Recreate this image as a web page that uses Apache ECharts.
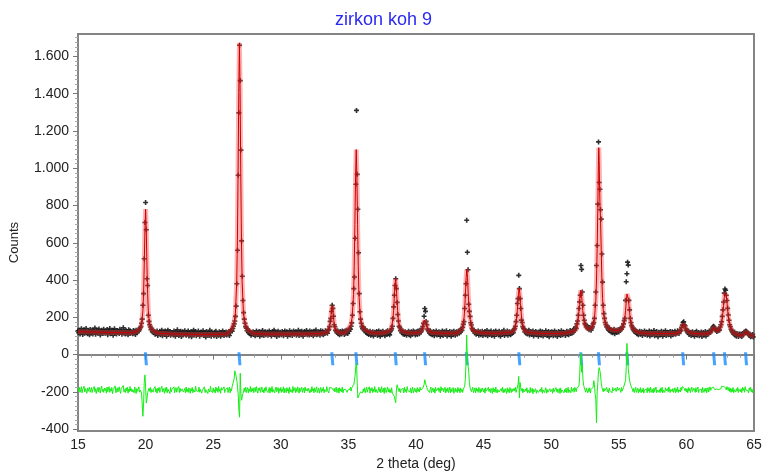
<!DOCTYPE html>
<html>
<head>
<meta charset="utf-8">
<title>zirkon koh 9</title>
<script src="https://cdn.jsdelivr.net/npm/echarts@6/dist/echarts.min.js"></script>
<style>
  html, body { margin: 0; padding: 0; background: #fff; }
  #chart { width: 767px; height: 476px; }
</style>
</head>
<body>
<div id="chart"></div>
<script>
// measurement grid (2 theta, deg)
const thetaStart = 15;
const thetaStep = 0.05;

// observed counts, one array per 5 deg (20 points per degree)
const obs15 = [
  128,117,131,110,125,139,121,108,126,133,115,122,140,119,112,129,124,106,135,120,
  118,132,111,127,123,142,109,121,130,114,126,137,118,105,124,131,120,113,136,122,
  115,128,121,134,107,119,126,140,112,123,117,131,104,125,138,116,122,110,129,119,
  124,113,136,118,127,109,121,144,115,126,111,130,119,123,106,133,117,128,114,121,
  120,112,129,116,125,108,131,118,122,130,127,135,144,150,168,190,265,327,514,709
];
const obs20 = [
  816,670,407,371,211,178,160,148,134,141,122,128,117,124,109,121,115,127,103,118,
  112,125,106,118,130,101,116,122,109,127,113,98,120,131,108,115,124,104,119,111,
  117,105,126,112,99,121,108,133,114,102,119,110,125,97,116,123,106,113,128,109,
  104,120,113,127,100,115,109,122,96,118,111,131,105,117,124,101,112,108,126,114,
  99,116,121,107,113,128,102,110,119,95,124,111,106,117,103,130,112,98,121,109
];
const obs25 = [
  113,101,120,108,125,97,115,110,104,122,111,99,118,106,127,112,103,116,109,121,
  105,117,111,124,102,119,128,133,126,140,152,165,180,205,260,380,560,962,1297,1660,
  1470,1097,610,420,290,225,190,168,150,142,128,137,119,126,112,121,104,117,110,123,
  108,119,101,114,126,106,117,111,124,98,113,120,105,129,110,102,116,122,107,115,
  121,104,112,127,109,118,100,115,123,108,131,106,113,119,97,117,125,111,104,120
];
const obs30 = [
  112,106,124,115,101,119,127,108,113,122,99,116,110,128,105,118,121,103,114,126,
  109,117,123,104,119,111,130,102,115,121,107,125,113,98,118,124,110,116,129,106,
  120,112,105,127,114,108,122,117,101,125,111,119,132,106,115,109,123,113,104,128,
  116,110,125,107,119,113,128,118,124,115,131,134,150,178,194,231,265,248,206,160,
  149,131,125,118,128,112,121,106,124,115,110,127,118,122,108,126,115,130,121,113
];
const obs35 = [
  132,125,141,136,152,170,211,274,354,416,624,914,1310,967,780,546,327,230,190,168,
  150,139,148,133,128,137,119,126,113,122,108,119,125,104,117,111,123,100,115,120,
  109,118,124,103,114,127,110,99,121,116,106,125,112,119,101,117,123,108,128,113,
  118,106,124,131,139,152,194,256,318,371,407,354,280,215,180,152,146,128,135,117,
  126,111,120,108,123,115,104,119,112,125,107,118,101,122,114,109,127,116,121,105
];
const obs40 = [
  113,122,108,126,117,112,131,120,127,138,150,168,206,247,232,178,160,137,129,124,
  115,128,110,121,106,118,124,101,116,112,127,105,119,108,123,114,99,120,111,126,
  103,117,122,109,115,128,100,113,119,106,124,111,98,121,116,107,125,112,104,118,
  122,109,117,126,114,131,123,137,129,146,162,177,247,318,380,721,549,455,270,232,
  205,171,159,140,133,126,130,116,124,109,120,113,127,104,118,122,107,115,125,102
];
const obs45 = [
  119,110,124,106,116,129,101,113,121,108,118,126,103,115,111,123,98,117,127,109,
  114,120,105,125,112,99,118,123,108,116,130,102,113,119,110,126,104,117,122,111,
  107,121,115,128,118,134,140,152,177,211,274,300,425,354,300,247,185,172,150,141,
  136,122,129,114,125,110,119,131,105,117,123,108,115,127,100,118,112,124,106,120,
  113,98,121,109,126,104,116,122,100,114,119,107,128,111,103,117,124,96,115,120
];
const obs50 = [
  108,123,112,101,118,126,105,115,120,97,113,124,109,117,102,128,111,106,121,114,
  119,103,116,125,110,121,107,118,129,113,124,116,131,120,138,129,146,140,165,180,
  211,247,283,318,478,457,336,265,211,184,166,160,148,152,140,146,133,145,138,131,
  142,150,165,172,194,265,336,478,585,807,1141,923,887,777,727,540,389,265,220,194,
  172,160,148,153,139,131,142,126,135,120,131,117,128,136,112,125,130,118,127,133
];
const obs55 = [
  121,134,129,140,136,150,148,165,182,194,291,391,434,496,480,291,240,194,172,156,
  148,138,131,124,133,118,127,112,121,106,118,125,109,116,122,103,119,113,127,108,
  115,121,104,118,110,126,100,114,123,107,117,112,129,101,119,108,124,113,96,120,
  111,117,106,125,113,99,121,109,116,128,103,114,120,107,118,111,124,100,115,122,
  106,119,112,125,109,117,114,128,120,113,126,132,128,147,158,172,176,160,155,140
];
const obs60 = [
  131,124,118,127,108,120,113,102,117,123,106,114,99,119,110,125,104,112,118,101,
  115,108,121,97,113,119,104,111,124,100,116,109,120,112,126,118,123,131,137,146,
  152,148,141,133,129,124,133,128,137,131,148,160,176,205,240,282,330,352,345,318,
  290,248,212,184,160,149,136,128,122,117,110,121,104,114,99,108,112,97,106,110,
  101,109,97,112,105,116,122,119,127,124,118,113,108,102,111,96,104,99,108,94
];

// difference curve (obs - calc, drawn with offset), same grid
const diff15 = [
  -181,-199,-176,-203,-188,-172,-205,-186,-196,-170,-201,-183,-193,-208,-179,-197,-185,-174,-202,-190,
  -177,-204,-187,-195,-171,-199,-183,-209,-190,-178,-200,-175,-192,-206,-181,-169,-198,-186,-203,-180,
  -193,-182,-207,-174,-199,-186,-172,-203,-184,-196,-176,-210,-189,-180,-198,-168,-205,-191,-178,-201,
  -186,-173,-197,-208,-182,-192,-176,-166,-200,-188,-204,-179,-194,-175,-207,-185,-199,-171,-195,-183,
  -201,-188,-178,-205,-174,-193,-209,-182,-197,-186,-173,-202,-190,-180,-206,-215,-331,-265,-150,-109
];
const diff20 = [
  -175,-260,-240,-205,-199,-181,-197,-176,-204,-187,-178,-202,-185,-195,-172,-200,-184,-207,-180,-193,
  -176,-203,-188,-196,-170,-201,-182,-192,-208,-178,-198,-174,-205,-186,-194,-179,-209,-176,-200,-188,
  -181,-196,-173,-205,-189,-177,-202,-185,-194,-171,-204,-180,-198,-207,-184,-175,-201,-191,-182,-206,
  -174,-199,-186,-203,-178,-192,-208,-182,-196,-176,-205,-188,-179,-201,-170,-194,-204,-184,-198,-175,
  -202,-186,-177,-207,-191,-181,-199,-173,-204,-188,-179,-196,-209,-184,-176,-201,-169,-193,-186,-205
];
const diff25 = [
  -179,-199,-188,-206,-174,-194,-181,-203,-171,-197,-186,-208,-177,-191,-201,-184,-173,-204,-189,-180,
  -199,-178,-204,-186,-174,-205,-183,-194,-172,-181,-165,-130,-87,-100,-105,-140,-175,-215,-300,-336,
  -100,-210,-245,-225,-209,-203,-180,-199,-175,-204,-188,-177,-206,-185,-197,-171,-202,-183,-195,-178,
  -205,-188,-176,-199,-172,-194,-207,-181,-192,-177,-203,-186,-174,-201,-189,-206,-179,-197,-173,-191,
  -182,-204,-195,-176,-207,-181,-198,-171,-202,-188,-178,-205,-185,-174,-199,-192,-177,-208,-183,-196
];
const diff30 = [
  -176,-203,-186,-198,-173,-206,-181,-193,-204,-177,-196,-183,-209,-174,-200,-188,-179,-205,-171,-197,
  -188,-177,-205,-183,-199,-173,-192,-207,-179,-198,-186,-175,-203,-191,-180,-206,-174,-195,-201,-183,
  -197,-181,-175,-206,-188,-201,-172,-194,-183,-205,-178,-199,-187,-173,-204,-191,-179,-207,-188,-176,
  -203,-184,-196,-175,-205,-188,-178,-199,-172,-192,-182,-206,-177,-179,-176,-178,-170,-182,-193,-181,
  -201,-186,-175,-204,-192,-180,-207,-178,-196,-184,-200,-174,-205,-188,-179,-198,-186,-176,-203,-191
];
const diff35 = [
  -181,-199,-187,-175,-196,-178,-178,-172,-160,-140,-110,-60,-46,-150,-233,-225,-215,-208,-200,-196,
  -191,-206,-184,-200,-178,-205,-188,-175,-202,-186,-195,-173,-207,-182,-193,-177,-204,-186,-198,-172,
  -202,-187,-179,-206,-192,-175,-199,-184,-205,-172,-189,-201,-181,-209,-177,-193,-204,-186,-174,-200,
  -183,-203,-189,-205,-178,-207,-205,-212,-225,-243,-258,-190,-162,-175,-183,-199,-181,-204,-188,-178,
  -196,-181,-206,-175,-199,-186,-204,-172,-193,-202,-183,-200,-179,-207,-188,-174,-205,-191,-180,-200
];
const diff40 = [
  -186,-204,-177,-197,-184,-201,-175,-190,-180,-180,-182,-172,-160,-135,-145,-165,-176,-189,-197,-181,
  -203,-186,-174,-205,-191,-179,-201,-184,-207,-176,-196,-188,-204,-178,-198,-182,-206,-172,-193,-202,
  -180,-200,-188,-175,-206,-185,-198,-178,-204,-191,-174,-205,-183,-200,-188,-177,-208,-194,-181,-199,
  -188,-204,-176,-196,-183,-205,-179,-198,-186,-203,-186,-185,-170,-130,-40,105,-30,-60,-95,-150,
  -178,-186,-199,-186,-175,-204,-191,-180,-206,-178,-196,-185,-203,-176,-192,-205,-183,-198,-179,-190
];
const diff45 = [
  -201,-183,-207,-178,-196,-188,-205,-176,-198,-185,-204,-181,-192,-209,-177,-200,-186,-203,-174,-195,
  -206,-188,-179,-201,-191,-208,-182,-198,-175,-205,-187,-202,-183,-195,-209,-178,-200,-186,-205,-177,
  -191,-204,-183,-198,-207,-181,-195,-176,-203,-188,-180,-160,-117,-233,-150,-178,-196,-181,-205,-186,
  -200,-209,-184,-197,-178,-205,-190,-185,-206,-177,-203,-192,-181,-210,-187,-200,-204,-183,-208,-191,
  -181,-203,-193,-206,-185,-200,-176,-208,-190,-182,-204,-195,-178,-207,-187,-202,-192,-205,-183,-199
];
const diff50 = [
  -204,-187,-208,-180,-200,-191,-206,-177,-198,-185,-205,-193,-182,-209,-179,-203,-190,-200,-184,-205,
  -187,-200,-180,-206,-193,-176,-204,-190,-184,-205,-175,-198,-188,-181,-202,-176,-186,-199,-179,-185,
  -182,-170,-125,-30,7,-95,-55,-135,-165,-178,-191,-202,-179,-194,-205,-183,-199,-178,-206,-187,
  -197,-180,-175,-140,-160,-210,-240,-366,-200,-150,-90,-70,-85,-110,-150,-175,-185,-200,-181,-196,
  -186,-204,-176,-199,-188,-206,-179,-193,-203,-183,-205,-176,-195,-185,-204,-180,-198,-188,-174,-192
];
const diff55 = [
  -200,-180,-192,-203,-177,-196,-186,-176,-180,-172,-140,-70,60,-10,-75,-110,-140,-155,-168,-178,
  -185,-199,-182,-204,-189,-176,-203,-191,-180,-206,-186,-199,-177,-205,-188,-200,-179,-207,-190,-181,
  -200,-184,-205,-177,-196,-182,-204,-175,-191,-203,-187,-206,-179,-199,-185,-174,-205,-190,-181,-202,
  -188,-204,-180,-198,-175,-206,-191,-185,-203,-178,-195,-205,-182,-200,-173,-190,-204,-186,-177,-198,
  -182,-203,-191,-178,-205,-185,-199,-174,-204,-188,-179,-201,-176,-192,-172,-180,-172,-182,-195,-181
];
const diff60 = [
  -200,-184,-205,-177,-196,-182,-204,-189,-175,-198,-206,-180,-191,-203,-178,-200,-186,-174,-204,-190,
  -180,-199,-185,-205,-176,-192,-203,-183,-197,-179,-206,-188,-177,-201,-185,-173,-192,-180,-179,-184,
  -175,-182,-188,-180,-192,-185,-190,-183,-187,-180,-178,-184,-170,-165,-180,-172,-168,-162,-178,-190,
  -172,-180,-193,-176,-198,-181,-203,-184,-199,-177,-205,-188,-179,-201,-183,-196,-176,-204,-187,-180,
  -199,-183,-204,-175,-193,-181,-202,-172,-190,-200,-180,-194,-206,-178,-192,-176,-201,-185,-204,-190
];

// calculated profile [2theta, counts]
const calcCurve = [
  [15,123],[16,121],[17,119],[18,118],[19,117],[19.4,126],[19.6,143],[19.7,162],[19.8,236],[19.85,328],
  [19.9,481],[19.95,667],[20.0,780],[20.05,665],[20.1,479],[20.15,326],[20.2,234],[20.3,160],[20.4,141],[20.6,124],
  [21,114],[22,111],[23,109],[24,108],[25,108],[26,110],[26.34,133],[26.54,172],[26.64,219],[26.74,391],
  [26.79,610],[26.84,969],[26.89,1406],[26.94,1672],[26.99,1406],[27.04,969],[27.09,610],[27.14,391],[27.24,219],[27.34,172],
  [27.54,133],[28,113],[29,110],[30,110],[31,110],[32,111],[33,113],[33.2,116],[33.4,121],[33.5,126],
  [33.6,144],[33.65,165],[33.7,199],[33.75,240],[33.8,262],[33.85,240],[33.9,199],[33.95,165],[34.0,144],[34.1,126],
  [34.2,120],[34.4,116],[34.7,116],[34.98,135],[35.18,161],[35.28,201],[35.38,323],[35.43,471],[35.48,697],[35.53,953],
  [35.58,1100],[35.63,953],[35.68,697],[35.73,471],[35.78,323],[35.88,201],[35.98,161],[36.18,135],[36.6,118],[37,115],
  [37.5,116],[37.89,122],[38.09,131],[38.19,145],[38.29,189],[38.34,235],[38.39,299],[38.44,369],[38.49,407],[38.54,369],
  [38.59,299],[38.64,235],[38.69,189],[38.79,145],[38.89,131],[39.09,122],[39.5,116],[40.07,117],[40.27,119],[40.37,123],
  [40.47,135],[40.52,148],[40.57,165],[40.62,185],[40.67,195],[40.72,185],[40.77,165],[40.82,148],[40.87,135],[40.97,123],
  [41.07,119],[41.27,117],[42,114],[43,115],[43.16,123],[43.36,133],[43.46,150],[43.56,201],[43.61,256],[43.66,331],
  [43.71,413],[43.76,457],[43.81,413],[43.86,331],[43.91,270],[43.96,215],[44.06,158],[44.16,135],[44.36,123],[45,116],
  [46,114],[47.03,120],[47.23,129],[47.33,144],[47.43,185],[47.48,223],[47.53,273],[47.58,326],[47.63,355],[47.68,326],
  [47.73,273],[47.78,223],[47.83,185],[47.93,144],[48.03,129],[48.23,120],[49,114],[50,113],[51,115],[51.59,123],
  [51.79,132],[51.89,145],[51.99,184],[52.04,220],[52.09,268],[52.14,318],[52.19,345],[52.24,318],[52.29,280],[52.34,235],
  [52.39,195],[52.49,160],[52.59,145],[52.79,135],[52.9,138],[53.0,145],[53.1,160],[53.2,195],[53.3,290],[53.35,400],
  [53.4,570],[53.45,800],[53.5,1060],[53.52,1110],[53.55,1040],[53.6,820],[53.65,720],[53.7,560],[53.75,400],[53.8,300],
  [53.85,240],[53.9,205],[54.0,170],[54.1,152],[54.3,138],[54.6,130],[55.0,130],[55.2,138],[55.3,150],[55.4,175],
  [55.45,200],[55.5,235],[55.55,280],[55.6,325],[55.64,335],[55.7,300],[55.75,265],[55.8,225],[55.85,190],[55.9,165],
  [56.0,143],[56.2,128],[56.5,118],[57,114],[58,113],[59,113],[59.3,115],[59.5,121],[59.6,130],[59.65,140],
  [59.7,152],[59.75,163],[59.8,168],[59.85,162],[59.9,152],[60.0,132],[60.1,122],[60.3,116],[61,111],[61.6,113],
  [61.8,120],[61.9,130],[61.95,140],[62.0,148],[62.03,150],[62.1,143],[62.15,135],[62.25,127],[62.4,130],[62.5,140],
  [62.6,160],[62.65,190],[62.7,225],[62.75,265],[62.8,305],[62.85,330],[62.88,335],[62.95,315],[63.0,280],[63.05,240],
  [63.1,205],[63.15,180],[63.25,148],[63.4,125],[63.6,112],[63.9,104],[64.1,103],[64.25,110],[64.35,120],[64.42,125],
  [64.5,120],[64.6,110],[64.8,102],[65,98]
];

// reflection positions (zircon)
const braggPos = [20.02, 26.94, 33.81, 35.59, 38.5, 40.67, 43.76, 47.64, 52.22, 53.53, 55.63, 59.76, 62.05, 62.85, 64.41];
const braggLevel = -22;

// y axis ticks
const yTicks = [-400, -200, 0, 200, 400, 600, 800, 1000, 1200, 1400, 1600];
const yMin = -410, yMax = 1720;

const obsAll = [].concat(obs15, obs20, obs25, obs30, obs35, obs40, obs45, obs50, obs55, obs60);
const diffAll = [].concat(diff15, diff20, diff25, diff30, diff35, diff40, diff45, diff50, diff55, diff60);
const theta = (i) => +(thetaStart + i * thetaStep).toFixed(2);

// minor ticks every 25 counts
const yMinor = [];
for (let v = -400; v <= 1700; v += 25) {
  if (v % 200 !== 0) yMinor.push(v);
}

const font = '"Liberation Sans", Arial, sans-serif';
const fmt = (v) => String(v).replace(/\B(?=(\d{3})+(?!\d))/g, '.');

const chart = echarts.init(document.getElementById('chart'));
chart.setOption({
  animation: false,
  backgroundColor: '#fff',
  textStyle: { fontFamily: font },
  title: {
    text: 'zirkon koh 9',
    left: 'center',
    top: 6,
    textStyle: { color: '#2a2af0', fontSize: 18, fontWeight: 'normal', fontFamily: font }
  },
  graphic: [{
    type: 'text',
    left: 8,
    top: 222,
    rotation: Math.PI / 2,
    style: { text: 'Counts', fill: '#222', font: '13px "Liberation Sans", Arial, sans-serif' }
  }],
  grid: {
    left: 78, right: 13, top: 34, bottom: 43,
    show: true, borderColor: '#858585', borderWidth: 2
  },
  xAxis: {
    type: 'value',
    min: 15, max: 65, interval: 5,
    name: '2 theta (deg)',
    nameLocation: 'middle',
    nameGap: 26,
    nameTextStyle: { fontSize: 14, color: '#222' },
    axisLine: { lineStyle: { color: '#858585', width: 2 } },
    axisTick: { length: 5, lineStyle: { color: '#777' } },
    minorTick: { show: true, splitNumber: 5, length: 3, lineStyle: { color: '#999' } },
    axisLabel: { fontSize: 14, color: '#222', margin: 7 },
    splitLine: { show: false }
  },
  yAxis: [{
    type: 'value',
    min: yMin, max: yMax,
    axisLine: { show: true, lineStyle: { color: '#858585', width: 2 } },
    axisTick: { show: true, customValues: yTicks, length: 5, lineStyle: { color: '#777' } },
    axisLabel: { customValues: yTicks, fontSize: 14, color: '#222', margin: 9, formatter: fmt },
    splitLine: { show: false }
  }, {
    type: 'value',
    min: yMin, max: yMax,
    position: 'left',
    axisLine: { show: false },
    axisTick: { show: true, customValues: yMinor, length: 3, lineStyle: { color: '#aaa' } },
    axisLabel: { show: false },
    splitLine: { show: false }
  }],
  series: [
    {
      name: 'Bragg',
      type: 'scatter',
      symbol: 'path://M0,0L3,0L4,13L1,13Z',
      symbolSize: [4, 13],
      itemStyle: { color: '#1a8cff' },
      data: braggPos.map((x) => [x, braggLevel]),
      z: 2
    },
    {
      name: 'Difference',
      type: 'line',
      showSymbol: false,
      lineStyle: { color: '#14ee14', width: 1 },
      data: diffAll.map((y, i) => [theta(i), y]),
      z: 3
    },
    {
      name: 'Observed',
      type: 'scatter',
      symbol: 'path://M1.7,0H3.3V1.7H5V3.3H3.3V5H1.7V3.3H0V1.7H1.7Z',
      symbolSize: 5,
      itemStyle: { color: '#1a1a1a', opacity: 0.9 },
      data: obsAll.map((y, i) => [theta(i), y]),
      z: 3
    },
    {
      name: 'Calc halo',
      type: 'line',
      showSymbol: false,
      lineStyle: { color: 'rgba(255,70,70,0.4)', width: 5 },
      data: calcCurve,
      z: 4
    },
    {
      name: 'Calculated',
      type: 'line',
      showSymbol: false,
      lineStyle: { color: '#cc0000', width: 1 },
      data: calcCurve,
      z: 5
    }
  ]
});
</script>
</body>
</html>
